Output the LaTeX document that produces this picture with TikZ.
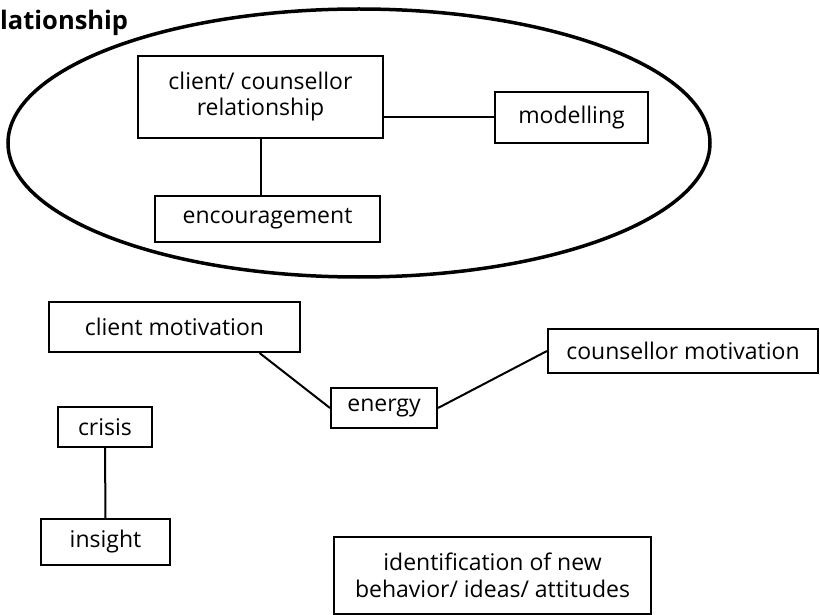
\documentclass[tikz,border=0pt]{standalone}
\usepackage{fontspec}
\setmainfont{Open Sans}
\usetikzlibrary{shapes.geometric}

\tikzset{
  box/.style={draw, line width=2pt, rectangle, inner sep=0pt,
    font=\fontsize{23}{26}\selectfont},
  link/.style={line width=2pt}
}

\begin{document}
\begin{tikzpicture}[x=1pt, y=-1pt, align=center]
\useasboundingbox (0,0) rectangle (820,615);

% group heading and outline
\node[font=\bfseries\fontsize{25.5}{30}\selectfont, anchor=base west, inner sep=0pt] (title) at (0,30) {lationship};
\node[ellipse, draw, line width=3.5pt, minimum width=702, minimum height=268, inner sep=0pt] (group) at (359,143) {};

% inside the relationship
\node[box, minimum width=245, minimum height=82] (rel) at (260.5,97) {client/ counsellor\\relationship};
\node[box, minimum width=153, minimum height=51] (model) at (571.5,117.5) {modelling};
\node[box, minimum width=225, minimum height=46] (enc) at (267.5,219) {encouragement};

% motivation
\node[box, minimum width=251, minimum height=50] (clmot) at (174.5,327) {client motivation};
\node[box, minimum width=106, minimum height=40] (energy) at (384,408) {energy};
\node[box, minimum width=270, minimum height=44] (comot) at (683,351) {counsellor motivation};

% crisis
\node[box, minimum width=94, minimum height=40] (crisis) at (105,427) {crisis};
\node[box, minimum width=129, minimum height=46] (insight) at (105.5,542) {insight};

\node[box, minimum width=317, minimum height=77, font=\fontsize{23}{27}\selectfont] (ident) at (492.5,575) {identification of new\\behavior/ ideas/ attitudes};

\draw[link] (rel.east |- model.west) -- (model.west);
\draw[link] (rel.south) -- (rel.south |- enc.north);
\draw[link] (clmot.-17) -- (energy.west);
\draw[link] (energy.east) -- (comot.west);
\draw[link] (crisis.south) -- (insight.north);
\end{tikzpicture}
\end{document}
